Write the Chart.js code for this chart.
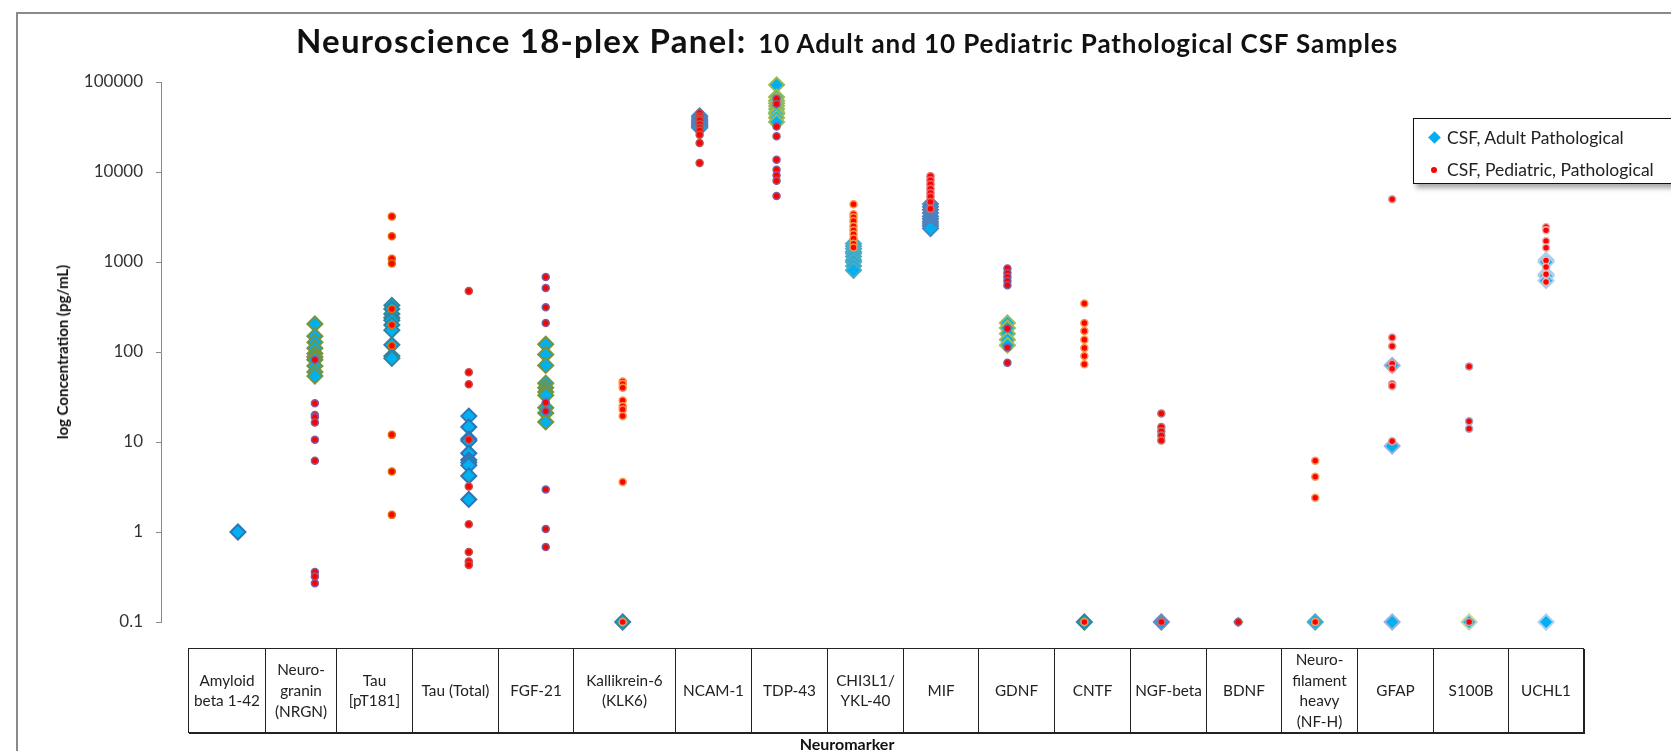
<!DOCTYPE html>
<html>
<head>
<meta charset="utf-8">
<script src="https://cdn.jsdelivr.net/npm/chart.js@4"></script>
<style>
  html, body { margin: 0; padding: 0; background: #fff; }
  body { width: 1671px; height: 751px; position: relative; overflow: hidden; font-family: Lato, "Open Sans", sans-serif; }
  #frame { position: absolute; left: 16px; top: 12px; width: 1700px; height: 800px; border: 2px solid #8a8a8a; }
  #chart { position: absolute; left: 0; top: 0; }
  #title { position: absolute; left: 296px; top: 20px; font-weight: bold; color: #111; white-space: nowrap; }
  #title .a { font-size: 33px; letter-spacing: 1.2px; }
  #title .b { font-size: 26px; letter-spacing: 0.9px; margin-left: 4px; }
  #ytitle { position: absolute; left: 62px; top: 352px; transform: translate(-50%, -50%) rotate(-90deg); font-weight: bold; font-size: 15px; white-space: nowrap; color: #111; }
  #xtitle { position: absolute; left: 847px; top: 743px; transform: translate(-50%, -50%); font-weight: bold; font-size: 16px; color: #111; }
  #legend { position: absolute; left: 1413px; top: 118px; width: 330px; height: 64px; border: 1.5px solid #111; background: #fff; box-shadow: 3px 4px 5px rgba(0,0,0,0.35); font-size: 17.5px; color: #222; }
  #legend .row { position: absolute; left: 0; height: 22px; line-height: 22px; white-space: nowrap; width: 100%; }
  #legend .txt { position: absolute; left: 33px; top: 0; }
  #legend .dia { position: absolute; left: 16px; top: 6px; width: 9px; height: 9px; background: #00B0F0; transform: rotate(45deg); }
  #legend .dot { position: absolute; left: 17px; top: 8px; width: 6px; height: 6px; background: #FF0000; border-radius: 50%; }
  #table { position: absolute; top: 648px; border-collapse: collapse; table-layout: fixed; font-size: 15.3px; line-height: 20.7px; color: #222; box-shadow: 1px 1px 0 #222; }
  #table td { border: 1px solid #222; text-align: center; vertical-align: middle; padding: 0; height: 80px; overflow: hidden; white-space: nowrap; }
</style>
</head>
<body>
<div id="frame"></div>
<canvas id="chart" width="1671" height="751"></canvas>
<div id="title"><span class="a">Neuroscience 18-plex Panel:</span>&nbsp;&nbsp;<span class="b">10 Adult and 10 Pediatric Pathological CSF Samples</span></div>
<div id="ytitle">log Concentration (pg/mL)</div>
<div id="xtitle">Neuromarker</div>
<div id="legend">
  <div class="row" style="top:8px"><div class="dia"></div><span class="txt">CSF, Adult Pathological</span></div>
  <div class="row" style="top:40px"><div class="dot"></div><span class="txt">CSF, Pediatric, Pathological</span></div>
</div>
<table id="table"><colgroup id="cols"></colgroup><tr id="tableRow"></tr></table>

<script>
// ---- data ----
const categories = [
  ["Amyloid", "beta 1-42"], ["Neuro-", "granin", "(NRGN)"], ["Tau", "[pT181]"], ["Tau (Total)"],
  ["FGF-21"], ["Kallikrein-6", "(KLK6)"], ["NCAM-1"], ["TDP-43"], ["CHI3L1/", "YKL-40"],
  ["MIF"], ["GDNF"], ["CNTF"], ["NGF-beta"], ["BDNF"], ["Neuro-", "filament", "heavy", "(NF-H)"],
  ["GFAP"], ["S100B"], ["UCHL1"]
];

const adultValues = [
  [1],
  [205, 150, 128, 110, 96, 88, 82, 70, 60, 54],
  [330, 300, 265, 240, 225, 200, 175, 120, 90, 85],
  [19.4, 14.7, 10.8, 10.3, 7.5, 6.3, 5.9, 5.5, 4.2, 2.3],
  [122, 94, 71, 45, 40, 36, 33, 24, 21, 16.7],
  [0.1],
  [42000, 40000, 38000, 37000, 36000, 35000, 34000, 33000, 32000, 31000],
  [93000, 68000, 62000, 58000, 54000, 50000, 46000, 44000, 40000, 36000],
  [1600, 1500, 1400, 1300, 1250, 1150, 1050, 1000, 900, 810],
  [4400, 4100, 3800, 3500, 3200, 3000, 2800, 2650, 2500, 2350],
  [210, 185, 160, 137, 119],
  [0.1],
  [0.1],
  [0.1],
  [0.1],
  [71, 9, 0.1],
  [0.1],
  [1050, 1000, 730, 700, 620, 0.1]
];

const pediatricValues = [
  [],
  [82, 27, 20, 19, 16.5, 10.6, 6.2, 0.36, 0.32, 0.27],
  [3200, 1930, 1090, 960, 300, 200, 117, 12, 4.7, 1.55],
  [476, 59.5, 43.7, 10.6, 3.2, 1.22, 0.6, 0.47, 0.43],
  [680, 514, 314, 210, 27.4, 22, 2.96, 1.08, 0.68],
  [47, 44, 40, 29, 25, 23, 19.5, 3.6, 0.1],
  [45000, 41500, 39000, 37500, 34000, 31000, 29000, 26000, 21000, 12600],
  [65000, 57000, 32000, 25000, 13700, 10600, 9200, 8000, 5400],
  [4370, 3400, 3150, 2850, 2500, 2250, 2030, 1820, 1600, 1450],
  [8960, 8100, 7300, 6500, 5850, 5300, 4650, 3900],
  [845, 755, 680, 615, 550, 182, 112, 76],
  [345, 210, 171, 137, 111, 90, 73, 0.1],
  [20.7, 14.7, 13.2, 11.8, 10.4, 0.1],
  [0.1],
  [6.2, 4.1, 2.4, 0.1],
  [4970, 145, 116, 74, 65, 44, 42, 10.2],
  [69, 17, 14, 0.1],
  [2450, 2250, 1710, 1440, 1040, 880, 730, 600]
];

const yTicks = [100000, 10000, 1000, 100, 10, 1, 0.1];

// ---- styles ----
const adultBorder = ["#2E75B6", "#77933C", "#31849B", "#2E75B6", "#77933C", "#31849B", "#4F81BD", "#9BBB59", "#4BACC6",
  "#4F81BD", "#9BBB59", "#31849B", "#6F86C0", "#9BBB59", "#4BACC6", "#9DB3DB", "#C3D69B", "#A9D0EE"];
const pedBorder = ["#8064A2", "#7F5FA0", "#E36C09", "#C0504D", "#7F5FA0", "#F79646", "#C0504D", "#7F5FA0", "#F79646",
  "#E06666", "#7F5FA0", "#F79646", "#C07070", "#8064A2", "#F7A060", "#DDA0A0", "#A6A6C8", "#E6B9B8"];
const colEdges = [188, 265, 336, 412, 498, 573, 675, 751, 827, 903, 978, 1054, 1130, 1206, 1281, 1357, 1433, 1508, 1583];

// table of marker names under the plot
const tbl = document.getElementById("table");
tbl.style.left = colEdges[0] + "px";
tbl.style.width = (colEdges[colEdges.length - 1] - colEdges[0]) + "px";
const cols = document.getElementById("cols");
const row = document.getElementById("tableRow");
categories.forEach((lines, i) => {
  const col = document.createElement("col");
  col.style.width = (colEdges[i + 1] - colEdges[i]) + "px";
  cols.appendChild(col);
  const td = document.createElement("td");
  td.innerHTML = lines.join("<br>");
  row.appendChild(td);
});

const toPoints = (vals) => vals.flatMap((list, i) => list.map(v => ({ x: i + 1, y: v })));

new Chart(document.getElementById("chart"), {
  type: "scatter",
  data: {
    datasets: [
      {
        label: "CSF, Adult Pathological",
        data: toPoints(adultValues),
        pointStyle: "rectRot",
        backgroundColor: "#00B0F0",
        borderColor: ctx => adultBorder[ctx.raw ? ctx.raw.x - 1 : 0],
        borderWidth: 2,
        pointRadius: ctx => (ctx.raw && ctx.raw.x === 14 ? 4 : 7.5),
        order: 1,
        clip: false
      },
      {
        label: "CSF, Pediatric, Pathological",
        data: toPoints(pediatricValues),
        pointStyle: "circle",
        backgroundColor: "#FF0000",
        borderColor: ctx => pedBorder[ctx.raw ? ctx.raw.x - 1 : 0],
        borderWidth: 1.5,
        pointRadius: 3.5,
        order: 0,
        clip: false
      }
    ]
  },
  options: {
    responsive: false,
    animation: false,
    layout: { padding: { left: 0, top: 82, right: 48, bottom: 129 } },
    plugins: { legend: { display: false }, tooltip: { enabled: false } },
    scales: {
      x: { type: "linear", min: 0, max: 19, display: false },
      y: {
        type: "logarithmic",
        min: 0.1,
        max: 100000,
        afterBuildTicks: s => { s.ticks = yTicks.map(v => ({ value: v })); },
        afterFit: s => { s.width = 161; },
        ticks: {
          callback: v => String(v),
          color: "#333",
          font: { family: "Lato", size: 17 },
          padding: 13
        },
        grid: { drawOnChartArea: false, drawTicks: true, tickLength: 5, color: "#888" },
        border: { display: true, color: "#888", width: 1 }
      }
    }
  }
});
</script>
</body>
</html>
